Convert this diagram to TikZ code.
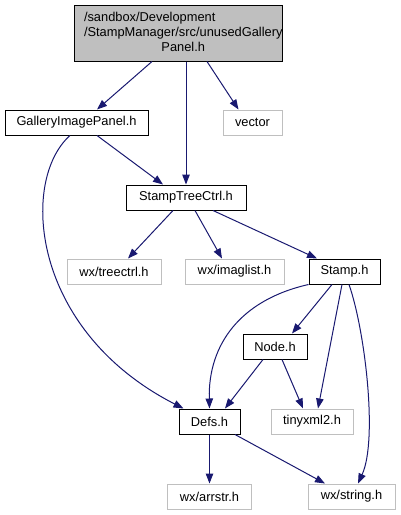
\documentclass[tikz,border=0pt]{standalone}
\usepackage{fontspec}
\setmainfont{Liberation Sans}
\usetikzlibrary{arrows.meta}
\definecolor{edgeblue}{HTML}{191970}
\definecolor{sysgray}{HTML}{BFBFBF}
\begin{document}
\begin{tikzpicture}[x=1pt,y=-1pt,
  hdr/.style={draw=black,line width=1pt,minimum height=25pt,inner sep=0pt,font=\fontsize{12.85}{15}\selectfont},
  sys/.style={hdr,draw=sysgray},
  dep/.style={draw=edgeblue,line width=1pt,-{Triangle[length=10pt,width=7.5pt]}}]
\useasboundingbox (0,0) rectangle (400,515);
% the file itself
\node[hdr,fill=sysgray,minimum width=208pt,minimum height=56pt] (main) at (178,33)
  {\makebox[208pt][l]{\hspace{10pt}\begin{tabular}{@{}l@{}}/sandbox/Development\\/StampManager/src/unusedGallery\\\multicolumn{1}{@{}c@{}}{Panel.h}\end{tabular}}};
\node[hdr,minimum width=143pt] (gip) at (76.5,122.5) {GalleryImagePanel.h};
\node[sys,minimum width=59pt] (vector) at (252.5,122.5) {vector};
\node[hdr,minimum width=120pt] (stc) at (186,197.5) {StampTreeCtrl.h};
\node[sys,minimum width=94pt] (treectrl) at (114,271.5) {wx/treectrl.h};
\node[sys,minimum width=99pt] (imaglist) at (234.5,271.5) {wx/imaglist.h};
\node[hdr,minimum width=71pt] (stamp) at (344.5,271.5) {Stamp.h};
\node[hdr,minimum width=64pt] (node) at (275,346.5) {Node.h};
\node[hdr,minimum width=61pt] (defs) at (209.5,421.5) {Defs.h};
\node[sys,minimum width=82pt] (tinyxml) at (312,421.5) {tinyxml2.h};
\node[sys,minimum width=84pt] (arrstr) at (209.5,496.5) {wx/arrstr.h};
\node[sys,minimum width=87pt] (string) at (351.5,496.5) {wx/string.h};
% includes
\draw[dep] ([xshift=-26pt]main.south) -- ([xshift=20.5pt]gip.north);
\draw[dep] ([xshift=8pt]main.south) -- (stc.north);
\draw[dep] ([xshift=29pt]main.south) -- ([xshift=-14pt]vector.north);
\draw[dep] ([xshift=20.5pt]gip.south) -- ([xshift=-23pt]stc.north);
\draw[dep] ([xshift=-6.5pt]gip.south) .. controls (20,180) and (30,330) .. ([xshift=-26pt]defs.north);
\draw[dep] ([xshift=-13pt]stc.south) -- ([xshift=14pt]treectrl.north);
\draw[dep] ([xshift=9pt]stc.south) -- ([xshift=-12.5pt]imaglist.north);
\draw[dep] ([xshift=27pt]stc.south) -- ([xshift=-27.5pt]stamp.north);
\draw[dep] (stamp.south west) .. controls (240,300) and (208,345) .. (defs.north);
\draw[dep] ([xshift=-12.5pt]stamp.south) -- ([xshift=17pt]node.north);
\draw[dep] ([xshift=-2.5pt]stamp.south) -- ([xshift=6pt]tinyxml.north);
\draw[dep] ([xshift=4.5pt]stamp.south) .. controls (365,330) and (378,440) .. ([xshift=6.5pt]string.north);
\draw[dep] ([xshift=-12pt]node.south) -- ([xshift=15.5pt]defs.north);
\draw[dep] ([xshift=7pt]node.south) -- ([xshift=-9pt]tinyxml.north);
\draw[dep] (defs.south) -- (arrstr.north);
\draw[dep] ([xshift=25.5pt]defs.south) -- ([xshift=-26.5pt]string.north);
\end{tikzpicture}
\end{document}
